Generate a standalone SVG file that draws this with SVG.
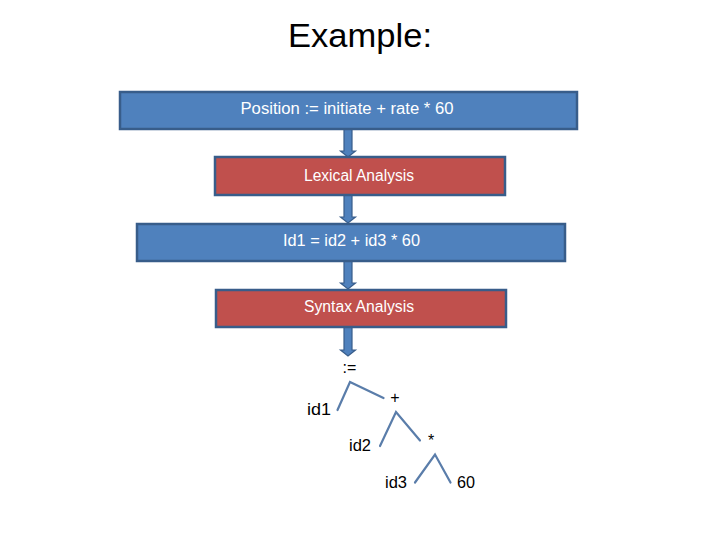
<svg xmlns="http://www.w3.org/2000/svg" width="720" height="540" viewBox="0 0 720 540">
<style>
.box rect{stroke:#385D8A;stroke-width:2.5}
.blue rect{fill:#4F81BD}
.red rect{fill:#C0504D}
.box text{fill:#FFFFFF;font-family:"Liberation Sans",Arial,sans-serif;font-size:16px;text-anchor:middle}
.arrow{fill:#4F81BD;stroke:#385D8A;stroke-width:1.2}
.edge{stroke:#5A7DAA;stroke-width:2.2;fill:none;stroke-linecap:round}
.lbl{fill:#000;font-family:"Liberation Sans",Arial,sans-serif;font-size:16px}
</style>
<rect width="720" height="540" fill="#FFFFFF"/>
<text x="360" y="47" font-family="Liberation Sans,Arial,sans-serif" font-size="34" text-anchor="middle" textLength="144" lengthAdjust="spacingAndGlyphs" fill="#000">Example:</text>

<g id="connectors">
<path class="arrow" d="M344,129 L352,129 L352,151 L355.5,151 L348,157 L340.5,151 L344,151 Z"/>
<path class="arrow" d="M344,195 L352,195 L352,217 L355.5,217 L348,223 L340.5,217 L344,217 Z"/>
<path class="arrow" d="M344,261 L352,261 L352,283 L355.5,283 L348,289 L340.5,283 L344,283 Z"/>
<path class="arrow" d="M344,327 L352,327 L352,350 L355.5,350 L348,356 L340.5,350 L344,350 Z"/>
<polyline class="edge" points="337.5,410 350,382 383.5,398"/>
<polyline class="edge" points="380,446 396,412 420,440.5"/>
<polyline class="edge" points="415,482.5 435,454.5 450.5,482.5"/>
</g>

<g id="source" class="box blue">
<rect x="120" y="92" width="457" height="37"/>
<text x="347" y="114" textLength="213" lengthAdjust="spacingAndGlyphs">Position := initiate + rate * 60</text>
</g>
<g id="lexical" class="box red">
<rect x="215" y="157" width="290" height="38"/>
<text x="359" y="181" textLength="110" lengthAdjust="spacingAndGlyphs">Lexical Analysis</text>
</g>
<g id="tokens" class="box blue">
<rect x="137" y="224" width="428" height="37"/>
<text x="351.5" y="246" textLength="137" lengthAdjust="spacingAndGlyphs">Id1 = id2 + id3 * 60</text>
</g>
<g id="syntax" class="box red">
<rect x="216" y="290" width="290" height="37"/>
<text x="359" y="312" textLength="110" lengthAdjust="spacingAndGlyphs">Syntax Analysis</text>
</g>

<g id="n-assign"><text class="lbl" x="349.5" y="373" text-anchor="middle">:=</text></g>
<g id="n-id1"><text class="lbl" x="307" y="415" textLength="24" lengthAdjust="spacingAndGlyphs">id1</text></g>
<g id="n-plus"><text class="lbl" x="395" y="403" text-anchor="middle">+</text></g>
<g id="n-id2"><text class="lbl" x="349" y="451" textLength="22" lengthAdjust="spacingAndGlyphs">id2</text></g>
<g id="n-mul"><text class="lbl" x="431" y="446" text-anchor="middle">*</text></g>
<g id="n-id3"><text class="lbl" x="385" y="488" textLength="22" lengthAdjust="spacingAndGlyphs">id3</text></g>
<g id="n-60"><text class="lbl" x="457" y="488" textLength="18" lengthAdjust="spacingAndGlyphs">60</text></g>
</svg>
